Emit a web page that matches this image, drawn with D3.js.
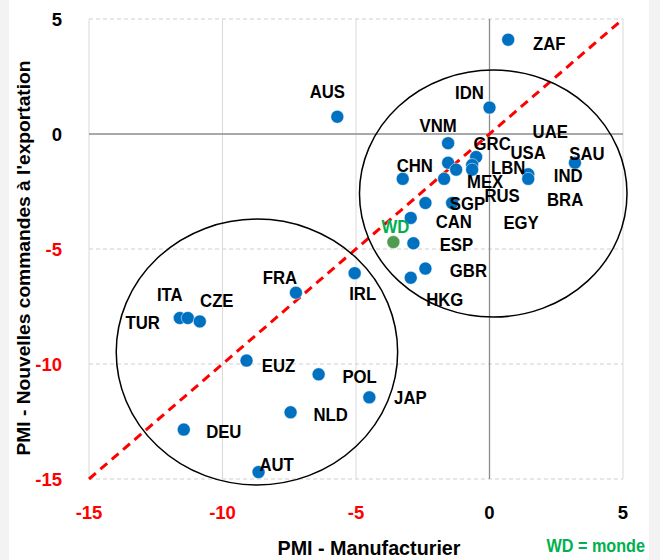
<!DOCTYPE html>
<html lang="fr">
<head>
<meta charset="UTF-8">
<title>PMI - Manufacturier vs nouvelles commandes à l'exportation</title>
<script src="https://d3js.org/d3.v7.min.js"></script>
<style>
    body { margin: 0; background: #fff; }
    svg { display: block; font-family: "Liberation Sans", Arial, sans-serif; font-weight: bold; }
</style>
</head>
<body>
<svg width="660" height="560"></svg>
<script>
// données
var countries = ["ZAF","AUS","IDN","VNM","GRC","USA","LBN","RUS","MEX","EGY","CHN","UAE","IND","SAU",
                 "SGP","BRA","CAN","ESP","GBR","HKG","WD","FRA","IRL","TUR","ITA","CZE","EUZ","POL",
                 "JAP","NLD","DEU","AUT"];
var pmiManuf = [0.7, -5.7, 0.0, -1.55, -0.5, -0.65, -0.65, -1.55, -1.25, -1.7, -3.25, 1.45, 1.45, 3.2,
                -2.4, -1.4, -2.95, -2.85, -2.4, -2.95, -3.6, -7.25, -5.05, -11.6, -11.3, -10.85, -9.1, -6.4,
                -4.5, -7.45, -11.45, -8.65];
var pmiExport = [4.1, 0.75, 1.15, -0.4, -1.0, -1.35, -1.55, -1.25, -1.55, -1.95, -1.95, -1.75, -1.95, -1.25,
                 -3.0, -3.0, -3.65, -4.75, -5.85, -6.25, -4.7, -6.9, -6.05, -8.0, -8.0, -8.15, -9.85, -10.45,
                 -11.45, -12.1, -12.85, -14.7];
var ticks = [-15, -10, -5, 0, 5];

// groupes entourés (centre et rayons en unités du graphique)
var groups = [
    {cx: 0.14, cy: -2.59, rx: 5.01, ry: 5.37},
    {cx: -8.71, cy: -9.48, rx: 5.27, ry: 5.78}
];

// décalage des étiquettes (px)
var labelOffset = {
    ZAF: [41, 3], AUS: [-10, -26], IDN: [-20, -15], VNM: [-10, -18], GRC: [16, -14], USA: [56, -13],
    LBN: [36, -3], RUS: [54, 32], MEX: [29, 11], EGY: [77, 43], CHN: [12, -14], UAE: [22, -43],
    IND: [40, -4], SAU: [12, -10], SGP: [42, 0], BRA: [113, -4], CAN: [43, 3], ESP: [43, 1],
    GBR: [43, 2], HKG: [34, 21], WD: [2, -16], FRA: [-16, -16], IRL: [8, 20], TUR: [-37, 4],
    ITA: [-18, -24], CZE: [17, -21], EUZ: [32, 5], POL: [41, 2], JAP: [41, 0], NLD: [40, 2],
    DEU: [40, 2], AUT: [18, -8]
};

var data = countries.map(function(c, i) {
    return {name: c, x: pmiManuf[i], y: pmiExport[i]};
});

var svg = d3.select("svg"),
    margin = {top: 19, right: 37, bottom: 81, left: 89},
    width = 660 - margin.left - margin.right,
    height = 560 - margin.top - margin.bottom;

// léger bord gris de la capture
svg.append("rect").attr("x", 0).attr("y", 0).attr("width", 9).attr("height", 560).attr("fill", "#f3f3f3");
svg.append("rect").attr("x", 649).attr("y", 0).attr("width", 11).attr("height", 560).attr("fill", "#f3f3f3");

var g = svg.append("g").attr("transform", "translate(" + margin.left + "," + margin.top + ")");

var x = d3.scaleLinear().domain([-15, 5]).range([0, width]);
var y = d3.scaleLinear().domain([-15, 5]).range([height, 0]);

// grille
g.selectAll(".hgrid").data(ticks.filter(function(t) { return t !== 0; }))
    .enter().append("line")
    .attr("x1", 0).attr("x2", width)
    .attr("y1", function(d) { return y(d); }).attr("y2", function(d) { return y(d); })
    .attr("stroke", "#cfcfcf").attr("stroke-width", 1).attr("stroke-dasharray", "4,3");

g.selectAll(".vgrid").data(ticks.filter(function(t) { return t !== 0; }))
    .enter().append("line")
    .attr("y1", 0).attr("y2", height)
    .attr("x1", function(d) { return x(d); }).attr("x2", function(d) { return x(d); })
    .attr("stroke", "#d9d9d9").attr("stroke-width", 1);

// axes du zéro
g.append("line").attr("x1", 0).attr("x2", width).attr("y1", y(0)).attr("y2", y(0))
    .attr("stroke", "#8c8c8c").attr("stroke-width", 1.3);
g.append("line").attr("y1", 0).attr("y2", height).attr("x1", x(0)).attr("x2", x(0))
    .attr("stroke", "#8c8c8c").attr("stroke-width", 1.3);

// étiquettes des axes
g.selectAll(".ytick").data(ticks).enter().append("text")
    .attr("x", -27).attr("y", function(d) { return y(d); })
    .attr("dy", "0.36em").attr("text-anchor", "end")
    .attr("font-size", 18.5)
    .attr("fill", function(d) { return d < 0 ? "#ff0000" : "#000"; })
    .text(function(d) { return d; });

g.selectAll(".xtick").data(ticks).enter().append("text")
    .attr("x", function(d) { return x(d); }).attr("y", height + 40)
    .attr("text-anchor", "middle")
    .attr("font-size", 18.5)
    .attr("fill", function(d) { return d < 0 ? "#ff0000" : "#000"; })
    .text(function(d) { return d; });

// diagonale y = x
g.append("line")
    .attr("x1", x(-15)).attr("y1", y(-15)).attr("x2", x(5)).attr("y2", y(5))
    .attr("stroke", "#ff0000").attr("stroke-width", 3).attr("stroke-dasharray", "9,6");

// groupes
g.selectAll(".group").data(groups).enter().append("ellipse")
    .attr("cx", function(d) { return x(d.cx); })
    .attr("cy", function(d) { return y(d.cy); })
    .attr("rx", function(d) { return x(d.rx) - x(0); })
    .attr("ry", function(d) { return y(0) - y(d.ry); })
    .attr("fill", "none").attr("stroke", "#000").attr("stroke-width", 1.5);

// points
g.selectAll(".dot").data(data).enter().append("circle")
    .attr("cx", function(d) { return x(d.x); })
    .attr("cy", function(d) { return y(d.y); })
    .attr("r", 6.5)
    .attr("fill", function(d) { return d.name === "WD" ? "#4f9b4f" : "#0070c0"; })
    .attr("stroke", "#ffffff").attr("stroke-width", 0.5);

// étiquettes un peu étroites comme dans l'original
g.selectAll(".label").data(data).enter().append("text")
    .attr("transform", function(d) {
        return "translate(" + (x(d.x) + labelOffset[d.name][0]) + "," + (y(d.y) + labelOffset[d.name][1]) + ") scale(0.88,1)";
    })
    .attr("dy", "0.36em").attr("text-anchor", "middle")
    .attr("font-size", 19)
    .attr("fill", function(d) { return d.name === "WD" ? "#00b050" : "#000"; })
    .text(function(d) { return d.name; });

// titres
svg.append("text")
    .attr("x", 369).attr("y", 555).attr("text-anchor", "middle")
    .attr("font-size", 20).attr("textLength", 183).attr("lengthAdjust", "spacingAndGlyphs")
    .text("PMI - Manufacturier");

svg.append("text")
    .attr("transform", "translate(30,258) rotate(-90)")
    .attr("text-anchor", "middle")
    .attr("font-size", 19).attr("textLength", 395).attr("lengthAdjust", "spacingAndGlyphs")
    .text("PMI - Nouvelles commandes à l'exportation");

svg.append("text")
    .attr("transform", "translate(645,552) scale(0.9,1)")
    .attr("text-anchor", "end")
    .attr("font-size", 18).attr("fill", "#00b050")
    .text("WD = monde");
</script>
</body>
</html>
